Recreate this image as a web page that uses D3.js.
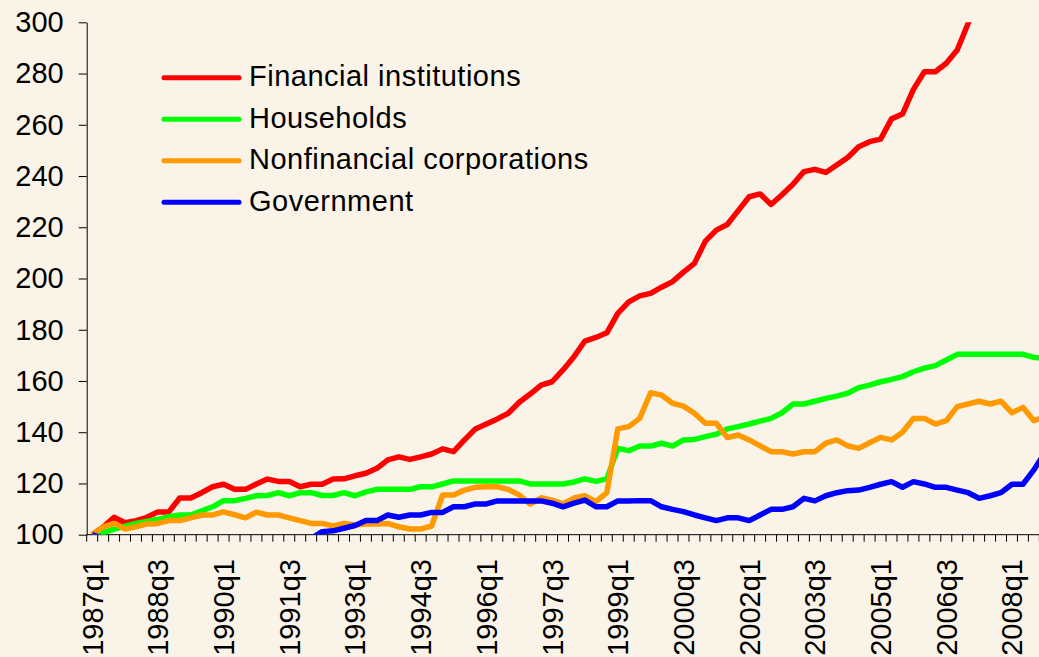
<!DOCTYPE html>
<html>
<head>
<meta charset="utf-8">
<script src="https://cdn.jsdelivr.net/npm/d3@7"></script>
<style>
  html, body { margin: 0; padding: 0; background: #f9f3e8; }
  svg { display: block; font-family: "Liberation Sans", Arial, sans-serif; }
</style>
</head>
<body>
<svg id="chart" width="1039" height="657"></svg>
<script>
// quarters 1987q1 .. 2008q4
const quarters = [];
for (let yr = 1987; yr <= 2008; yr++) {
  for (let q = 1; q <= 4; q++) quarters.push(`${yr}q${q}`);
}

const financial = [
  100, 103, 106.8, 104.7, 105.5, 106.8, 108.9, 108.9, 114.3, 114.3,
  116.4, 118.7, 119.7, 117.7, 117.7, 119.8, 121.7, 120.8, 120.8, 118.7,
  119.7, 119.7, 121.7, 121.8, 123, 124, 125.9, 129.2, 130.4, 129.4,
  130.4, 131.5, 133.5, 132.4, 137, 141.3, 143.2, 145.2, 147.4, 151.7,
  154.9, 158.4, 159.7, 164.3, 169.5, 175.6, 177, 178.8, 186.4, 190.9,
  193.2, 194.2, 196.6, 198.8, 202.5, 205.9, 214.6, 218.9, 221.1, 226.5,
  231.9, 233, 228.9, 232.7, 236.8, 241.7, 242.6, 241.4, 244.3, 247.2,
  251.4, 253.4, 254.4, 262.3, 264.2, 273.8, 280.7, 280.7, 284, 289.2,
  299.6, 310, 318, 324, 330, 336, 340, 345
];

const households = [
  100, 100.8, 102.2, 103.3, 104.4, 105.2, 106, 107, 107.7, 107.7,
  109.3, 110.9, 113.3, 113.3, 114.2, 115.2, 115.3, 116.4, 115.2, 116.4,
  116.4, 115.3, 115.3, 116.4, 115.2, 116.7, 117.7, 117.7, 117.7, 117.7,
  118.7, 118.7, 119.8, 121, 121, 121, 121, 121, 121, 121,
  119.8, 119.8, 119.8, 119.8, 120.6, 121.8, 120.8, 121.8, 133.7, 132.8,
  134.6, 134.6, 135.7, 134.6, 137, 137.2, 138.3, 139.2, 141.3, 142.2,
  143.2, 144.3, 145.4, 147.6, 151, 151, 152.1, 153.2, 154.1, 155.2,
  157.4, 158.4, 159.7, 160.6, 161.7, 163.6, 165, 166, 168.2, 170.4,
  170.4, 170.4, 170.4, 170.4, 170.4, 170.4, 169.2, 169
];

const nonfinancial = [
  100, 103.1, 104.4, 102.2, 103.1, 104.2, 104.4, 105.5, 105.5, 106.6,
  107.7, 107.7, 108.9, 107.8, 106.6, 108.8, 107.7, 107.7, 106.6, 105.5,
  104.4, 104.4, 103.4, 104.4, 103.8, 104.2, 104.2, 104.4, 103.1, 102.2,
  102.2, 103.4, 115.5, 115.5, 117.4, 118.5, 118.7, 118.7, 117.7, 115.5,
  111.9, 114.4, 113.5, 112, 114.3, 115.2, 112.9, 116.4, 141.3, 142.2,
  145.4, 155.4, 154.5, 151.3, 150.2, 147.4, 143.5, 143.5, 137.9, 138.9,
  137, 134.7, 132.4, 132.4, 131.5, 132.4, 132.4, 135.7, 137, 134.7,
  133.7, 135.9, 138, 137, 140, 145.4, 145.4, 143.2, 144.5, 150,
  151, 152.1, 151, 152.1, 147.6, 149.7, 144.5, 146
];

// below 100 it is hidden by the axis floor, values there are rough guesses
const government = [
  100, 98.5, 97.5, 97, 96.5, 96, 95.5, 95.5, 95, 95,
  94.5, 94.5, 94.5, 95, 95, 95.5, 96, 96.5, 97, 97.5,
  98.5, 101.2, 101.5, 102.5, 103.6, 105.5, 105.5, 107.7, 106.8, 107.7,
  107.7, 108.7, 108.7, 110.9, 110.9, 112, 112, 113.2, 113.2, 113.2,
  113.2, 113.2, 112.3, 110.9, 112.3, 113.5, 110.9, 110.9, 113.2, 113.2,
  113.3, 113.3, 110.9, 109.9, 109, 107.7, 106.6, 105.5, 106.6, 106.6,
  105.5, 107.7, 109.9, 109.9, 110.9, 114.2, 113.2, 115.2, 116.4, 117.2,
  117.4, 118.5, 119.7, 120.7, 118.5, 120.7, 119.8, 118.5, 118.5, 117.4,
  116.4, 114.2, 115.2, 116.4, 119.7, 119.7, 125.3, 132
];

const seriesNames = ["Financial institutions", "Households", "Nonfinancial corporations", "Government"];
const seriesColors = ["#ff0000", "#00ff00", "#ff9900", "#0000ff"];
const yTicks = [100, 120, 140, 160, 180, 200, 220, 240, 260, 280, 300];

const series = [financial, households, nonfinancial, government];

const svg = d3.select("#chart");
const plotLeft = 86.7, plotTop = 22.3, plotBottom = 534.7, bandW = 10.95;

const x = d3.scaleBand()
  .domain(quarters)
  .range([plotLeft, plotLeft + quarters.length * bandW])
  .padding(0);

const y = d3.scaleLinear().domain([100, 300]).range([plotBottom, plotTop]);

svg.append("defs").append("clipPath").attr("id", "plot")
  .append("rect")
  .attr("x", plotLeft).attr("y", plotTop)
  .attr("width", 1039 - plotLeft).attr("height", plotBottom - plotTop);

// y axis
const yAxis = svg.append("g")
  .attr("transform", `translate(${plotLeft},0)`)
  .call(d3.axisLeft(y).tickValues(yTicks).tickSize(8).tickPadding(15).tickSizeOuter(0));
yAxis.select(".domain").attr("stroke", "#000");
yAxis.selectAll("line").attr("stroke", "#000");
yAxis.selectAll("text").attr("font-size", 29).attr("fill", "#000")
  .attr("font-family", "Liberation Sans, Arial, sans-serif");

// x axis line + ticks on quarter boundaries
const xg = svg.append("g");
xg.append("line")
  .attr("x1", plotLeft).attr("x2", 1039)
  .attr("y1", plotBottom).attr("y2", plotBottom)
  .attr("stroke", "#000");
xg.selectAll("line.tick")
  .data(quarters)
  .join("line")
  .attr("class", "tick")
  .attr("x1", d => x(d)).attr("x2", d => x(d))
  .attr("y1", plotBottom).attr("y2", plotBottom + 7)
  .attr("stroke", "#000");

const labelQs = quarters.filter((q, i) => i % 6 === 0);
xg.selectAll("text")
  .data(labelQs)
  .join("text")
  .attr("transform", d => `translate(${x(d) + x.bandwidth() / 2},559) rotate(-90)`)
  .attr("text-anchor", "end")
  .attr("dy", "0.36em")
  .attr("font-size", 29)
  .attr("fill", "#000")
  .text(d => d);

// lines
const line = d3.line()
  .x((d, i) => x(quarters[i]) + x.bandwidth() / 2)
  .y(d => y(d));

const plot = svg.append("g").attr("clip-path", "url(#plot)");
series.forEach((s, k) => {
  plot.append("path")
    .datum(s)
    .attr("d", line)
    .attr("fill", "none")
    .attr("stroke", seriesColors[k])
    .attr("stroke-width", 5.5)
    .attr("stroke-linejoin", "round");
});

// legend
const legend = svg.append("g");
seriesNames.forEach((name, k) => {
  const ly = 77.7 + k * 41.5;
  legend.append("line")
    .attr("x1", 164).attr("x2", 239)
    .attr("y1", ly).attr("y2", ly)
    .attr("stroke", seriesColors[k])
    .attr("stroke-width", 5)
    .attr("stroke-linecap", "round");
  legend.append("text")
    .attr("x", 249).attr("y", ly - 2)
    .attr("dy", "0.36em")
    .attr("font-size", 29)
    .attr("letter-spacing", 0.5)
    .attr("fill", "#000")
    .text(name);
});
</script>
</body>
</html>
